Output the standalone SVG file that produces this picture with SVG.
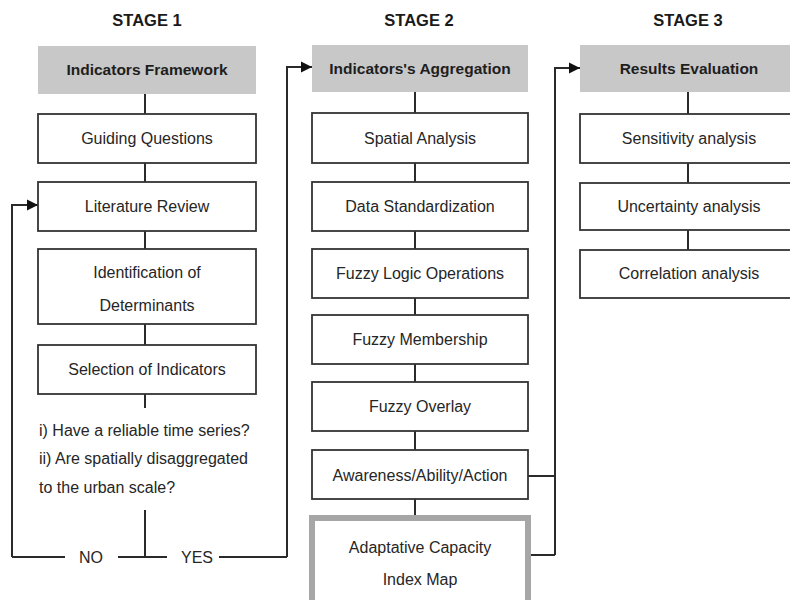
<svg xmlns="http://www.w3.org/2000/svg" width="790" height="600" viewBox="0 0 790 600">
<defs>
<style>
.t{font-family:"Liberation Sans",Arial,sans-serif;font-size:16px;fill:#262626;text-anchor:middle}
.h{font-family:"Liberation Sans",Arial,sans-serif;font-size:15.5px;font-weight:bold;fill:#1e1e1e;text-anchor:middle}
.st{font-family:"Liberation Sans",Arial,sans-serif;font-size:16.5px;font-weight:bold;fill:#1a1a1a;text-anchor:middle}
.q{font-family:"Liberation Sans",Arial,sans-serif;font-size:16px;fill:#262626}
.box{fill:#fff;stroke:#333;stroke-width:1.8}
.hdr{fill:#c8c8c8;stroke:none}
.big{fill:#fff;stroke:#a6a6a6;stroke-width:6}
.c{fill:none;stroke:#2a2a2a;stroke-width:2}
</style>
<marker id="arr" markerUnits="userSpaceOnUse" markerWidth="12" markerHeight="12" refX="11" refY="6" orient="auto">
<path d="M0,0.5 L11,6 L0,11.5 z" fill="#111"/>
</marker>
</defs>
<rect width="790" height="600" fill="#fff"/>

<text class="st" x="147" y="26">STAGE 1</text>
<text class="st" x="419" y="26">STAGE 2</text>
<text class="st" x="688" y="26">STAGE 3</text>

<g id="connectors">
<path class="c" d="M145,94V114M145,163V182M145,231V249M145,324V345M145,394V408M145,510V557"/>
<path class="c" d="M12,557H65M118,557H167M219,557H287"/>
<path class="c" d="M12,557V205H38" marker-end="url(#arr)"/>
<path class="c" d="M287,557V67H312" marker-end="url(#arr)"/>
<path class="c" d="M415,92V113M415,163V182M415,231V249M415,298V315M415,364V382M415,431V450M415,499V515"/>
<path class="c" d="M528,476H555M531,555H555"/>
<path class="c" d="M555,555V68H580" marker-end="url(#arr)"/>
<path class="c" d="M688,92V114M688,163V183M688,230V250"/>
</g>

<g id="n-indicators-framework"><rect class="hdr" x="38" y="46" width="218" height="48"/><text class="h" x="147" y="75">Indicators Framework</text></g>
<g id="n-guiding"><rect class="box" x="38" y="114" width="218" height="49"/><text class="t" x="147" y="144">Guiding Questions</text></g>
<g id="n-literature"><rect class="box" x="38" y="182" width="218" height="49"/><text class="t" x="147" y="212">Literature Review</text></g>
<g id="n-identification"><rect class="box" x="38" y="249" width="218" height="75"/><text class="t" x="147" y="278">Identification of</text><text class="t" x="147" y="311">Determinants</text></g>
<g id="n-selection"><rect class="box" x="38" y="345" width="218" height="49"/><text class="t" x="147" y="375">Selection of Indicators</text></g>
<g id="n-question"><text class="q" x="39" y="436">i) Have a reliable time series?</text><text class="q" x="39" y="464">ii) Are spatially disaggregated</text><text class="q" x="39" y="493">to the urban scale?</text></g>
<g id="n-no"><text class="t" x="91" y="563">NO</text></g>
<g id="n-yes"><text class="t" x="197" y="563">YES</text></g>

<g id="n-aggregation"><rect class="hdr" x="312" y="45" width="216" height="47"/><text class="h" x="420" y="74">Indicators's Aggregation</text></g>
<g id="n-spatial"><rect class="box" x="312" y="113" width="216" height="50"/><text class="t" x="420" y="144">Spatial Analysis</text></g>
<g id="n-standardization"><rect class="box" x="312" y="182" width="216" height="49"/><text class="t" x="420" y="212">Data Standardization</text></g>
<g id="n-fuzzy-logic"><rect class="box" x="312" y="249" width="216" height="49"/><text class="t" x="420" y="279">Fuzzy Logic Operations</text></g>
<g id="n-fuzzy-membership"><rect class="box" x="312" y="315" width="216" height="49"/><text class="t" x="420" y="345">Fuzzy Membership</text></g>
<g id="n-fuzzy-overlay"><rect class="box" x="312" y="382" width="216" height="49"/><text class="t" x="420" y="412">Fuzzy Overlay</text></g>
<g id="n-awareness"><rect class="box" x="312" y="450" width="216" height="49"/><text class="t" x="420" y="481">Awareness/Ability/Action</text></g>
<g id="n-adaptative"><rect class="big" x="312" y="518" width="216" height="90"/><text class="t" x="420" y="553">Adaptative Capacity</text><text class="t" x="420" y="585">Index Map</text></g>

<g id="n-results"><rect class="hdr" x="580" y="45" width="217" height="47"/><text class="h" x="689" y="74">Results Evaluation</text></g>
<g id="n-sensitivity"><rect class="box" x="580" y="114" width="217" height="49"/><text class="t" x="689" y="144">Sensitivity analysis</text></g>
<g id="n-uncertainty"><rect class="box" x="580" y="183" width="217" height="47"/><text class="t" x="689" y="212">Uncertainty analysis</text></g>
<g id="n-correlation"><rect class="box" x="580" y="250" width="217" height="48"/><text class="t" x="689" y="279">Correlation analysis</text></g>
</svg>
